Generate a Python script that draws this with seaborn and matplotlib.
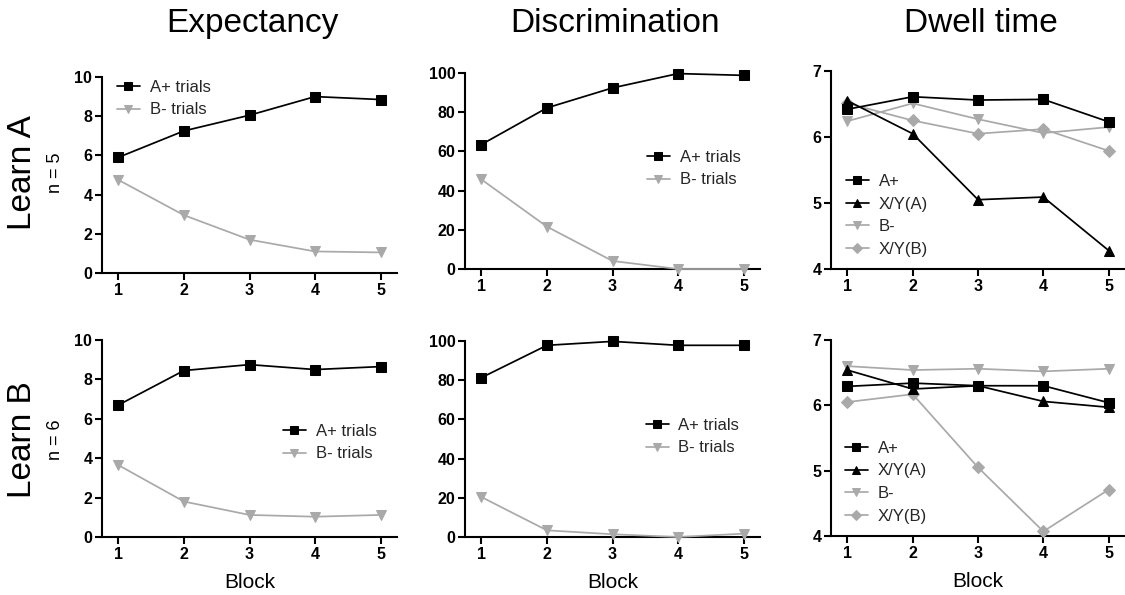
import matplotlib
matplotlib.use("Agg")
import matplotlib.pyplot as plt
import seaborn as sns

# ---- data -------------------------------------------------------------
blocks = [1, 2, 3, 4, 5]
block_labels = ["1", "2", "3", "4", "5"]

# Learn A (n = 5)
expA_plus = [5.9, 7.25, 8.05, 9.0, 8.85]
expA_minus = [4.75, 2.95, 1.7, 1.1, 1.05]
discA_plus = [63.5, 82.2, 92.4, 99.7, 98.8]
discA_minus = [45.7, 21.6, 4.1, 0.0, 0.0]
dwellA_Aplus = [6.42, 6.61, 6.56, 6.57, 6.23]
dwellA_XYA = [6.55, 6.05, 5.05, 5.09, 4.28]
dwellA_Bminus = [6.24, 6.51, 6.27, 6.06, 6.15]
dwellA_XYB = [6.51, 6.25, 6.05, 6.12, 5.79]

# Learn B (n = 6)
expB_plus = [6.7, 8.45, 8.75, 8.5, 8.65]
expB_minus = [3.65, 1.8, 1.12, 1.03, 1.12]
discB_plus = [81.3, 97.8, 99.8, 97.8, 97.8]
discB_minus = [20.4, 3.4, 1.4, 0.0, 1.7]
dwellB_Aplus = [6.29, 6.34, 6.30, 6.30, 6.04]
dwellB_XYA = [6.54, 6.25, 6.30, 6.06, 5.97]
dwellB_Bminus = [6.60, 6.54, 6.56, 6.52, 6.56]
dwellB_XYB = [6.05, 6.17, 5.05, 4.07, 4.71]

col_titles = ["Expectancy", "Discrimination", "Dwell time"]
row_titles = ["Learn A", "Learn B"]
row_ns = ["n = 5", "n = 6"]
trial_labels = ["A+ trials", "B- trials"]
dwell_labels = ["A+", "X/Y(A)", "B-", "X/Y(B)"]

exp_ticks = [0, 2, 4, 6, 8, 10]
disc_ticks = [0, 20, 40, 60, 80, 100]
dwell_ticks = [4, 5, 6, 7]

# ---- style ------------------------------------------------------------
sns.set_theme(style="ticks")
plt.rcParams["font.family"] = ["Liberation Sans", "DejaVu Sans"]

BLACK = "#000000"
GREY = "#a9a9a9"
W, H = 1125, 595

fig = plt.figure(figsize=(W / 100, H / 100), dpi=100)


def add_axes_px(left, right, top, bottom):
    return fig.add_axes([left / W, 1 - bottom / H, (right - left) / W, (bottom - top) / H])


def series(ax, y, label, color, marker, ms, z):
    sns.lineplot(x=blocks, y=y, ax=ax, color=color, marker=marker, markersize=ms,
                 markeredgecolor=color, markeredgewidth=0.75, linewidth=1.25,
                 label=label, clip_on=False, zorder=z)


def style_axes(ax, yticks):
    ax.set_xlim(0.75, 5.25)
    ax.set_ylim(yticks[0], yticks[-1])
    ax.set_xticks(blocks, labels=block_labels, fontweight="bold")
    ax.set_yticks(yticks, labels=[str(t) for t in yticks], fontweight="bold")
    sns.despine(ax=ax)
    for side in ("left", "bottom"):
        ax.spines[side].set_linewidth(1.5)
        ax.spines[side].set_color(BLACK)
    ax.tick_params(direction="out", length=5, width=1.5, labelsize=11.5, pad=2,
                   color=BLACK, labelcolor=BLACK)
    ax.set_xlabel("")
    ax.set_ylabel("")


def place_legend(ax, x_px, y_px):
    ax.legend(loc="upper left", bbox_to_anchor=(x_px / W, 1 - (y_px - 7) / H),
              bbox_transform=fig.transFigure, frameon=False, fontsize=12,
              handlelength=1.35, handletextpad=0.6, labelspacing=0.45,
              borderpad=0, borderaxespad=0, markerscale=0.8)


rows = [
    dict(exp=(expA_plus, expA_minus), disc=(discA_plus, discA_minus),
         dwell=(dwellA_Aplus, dwellA_XYA, dwellA_Bminus, dwellA_XYB),
         rects=[(102, 397, 77, 273), (465, 760, 73, 269), (831, 1125, 71, 269)],
         legs=[(117, 87), (647, 157), (846, 181)], label_y=173),
    dict(exp=(expB_plus, expB_minus), disc=(discB_plus, discB_minus),
         dwell=(dwellB_Aplus, dwellB_XYA, dwellB_Bminus, dwellB_XYB),
         rects=[(102, 397, 340, 537), (465, 760, 341, 537), (831, 1125, 340, 536)],
         legs=[(283, 431), (646, 425), (845, 448)], label_y=440),
]

for r, row in enumerate(rows):
    axes = [add_axes_px(*rc) for rc in row["rects"]]

    # Expectancy
    ax = axes[0]
    series(ax, row["exp"][0], trial_labels[0], BLACK, "s", 7, 4)
    series(ax, row["exp"][1], trial_labels[1], GREY, "v", 7, 3)
    style_axes(ax, exp_ticks)

    # Discrimination
    ax = axes[1]
    series(ax, row["disc"][0], trial_labels[0], BLACK, "s", 7, 4)
    series(ax, row["disc"][1], trial_labels[1], GREY, "v", 7, 3)
    style_axes(ax, disc_ticks)

    # Dwell time
    ax = axes[2]
    a_plus, xy_a, b_minus, xy_b = row["dwell"]
    series(ax, a_plus, dwell_labels[0], BLACK, "s", 7, 4)
    series(ax, xy_a, dwell_labels[1], BLACK, "^", 7, 4)
    series(ax, b_minus, dwell_labels[2], GREY, "v", 7, 3)
    series(ax, xy_b, dwell_labels[3], GREY, "D", 6, 3)
    style_axes(ax, dwell_ticks)

    for ax, (lx, ly) in zip(axes, row["legs"]):
        place_legend(ax, lx, ly)

    if r == 1:
        for ax in axes:
            ax.set_xlabel("Block", fontsize=15, labelpad=8, color=BLACK)

    fig.text(23 / W, 1 - row["label_y"] / H, row_titles[r], rotation=90,
             fontsize=24, ha="center", va="center", color=BLACK)
    fig.text(56 / W, 1 - row["label_y"] / H, row_ns[r], rotation=90,
             fontsize=13, ha="center", va="center", color=BLACK)

for cx, title in zip([252, 615, 981], col_titles):
    fig.text(cx / W, 1 - 32 / H, title, fontsize=24, ha="center", va="baseline",
             color=BLACK)

fig.savefig("out.png", dpi=100, facecolor="white")
